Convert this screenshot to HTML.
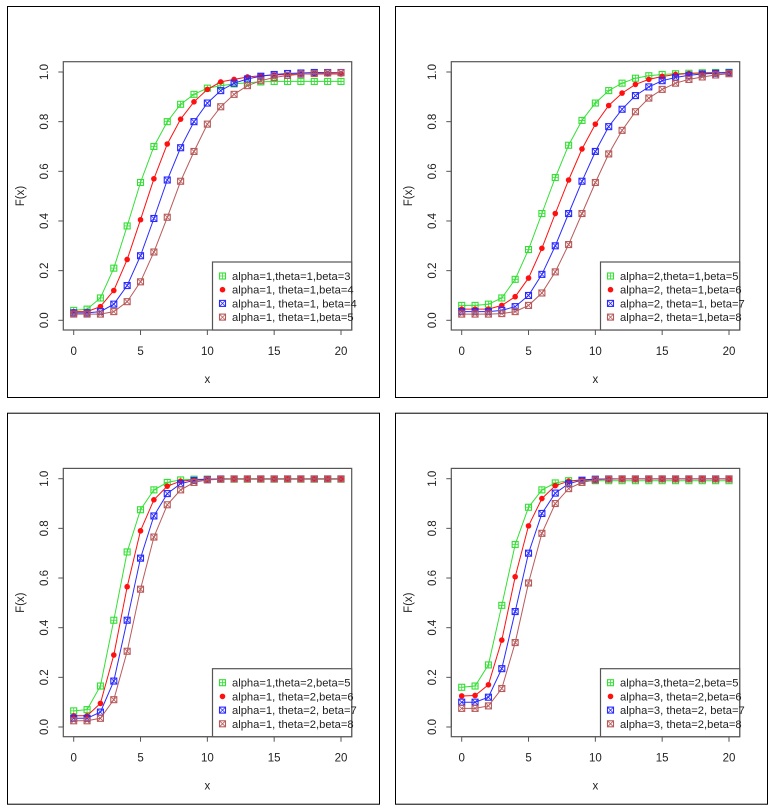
<!DOCTYPE html>
<html><head><meta charset="utf-8">
<style>
html,body{margin:0;padding:0;background:#fff;width:771px;height:812px;overflow:hidden}
svg{display:block;font-family:"Liberation Sans",Arial,sans-serif}
</style></head>
<body>
<svg id="chart" width="771" height="812" viewBox="0 0 771 812" xmlns="http://www.w3.org/2000/svg"></svg>
<script>
const xValues = [0,1,2,3,4,5,6,7,8,9,10,11,12,13,14,15,16,17,18,19,20];
const xTicks = [0,5,10,15,20];
const yTicks = [0,0.2,0.4,0.6,0.8,1.0];
const yTickLabels = ["0.0","0.2","0.4","0.6","0.8","1.0"];

const p1Labels = ["alpha=1,theta=1,beta=3","alpha=1, theta=1,beta=4","alpha=1, theta=1, beta=4","alpha=1, theta=1,beta=5"];
const p1Green = [0.04,0.045,0.09,0.21,0.38,0.555,0.70,0.80,0.87,0.91,0.935,0.945,0.952,0.957,0.96,0.962,0.962,0.962,0.962,0.962,0.962];
const p1Red = [0.035,0.035,0.055,0.12,0.245,0.405,0.57,0.71,0.81,0.88,0.93,0.96,0.97,0.98,0.985,0.988,0.99,0.992,0.992,0.992,0.992];
const p1Blue = [0.03,0.03,0.035,0.065,0.14,0.26,0.41,0.565,0.695,0.80,0.875,0.925,0.955,0.972,0.983,0.99,0.994,0.996,0.998,0.998,0.998];
const p1Brown = [0.025,0.025,0.025,0.035,0.075,0.155,0.275,0.415,0.56,0.68,0.79,0.86,0.91,0.945,0.965,0.978,0.986,0.991,0.994,0.996,0.997];

const p2Labels = ["alpha=2,theta=1,beta=5","alpha=2, theta=1,beta=6","alpha=2, theta=1, beta=7","alpha=2, theta=1,beta=8"];
const p2Green = [0.06,0.06,0.065,0.09,0.165,0.285,0.43,0.575,0.705,0.805,0.875,0.925,0.955,0.975,0.985,0.99,0.993,0.995,0.997,0.998,0.999];
const p2Red = [0.045,0.045,0.045,0.06,0.095,0.17,0.29,0.43,0.565,0.69,0.79,0.865,0.915,0.95,0.97,0.982,0.99,0.994,0.996,0.997,0.998];
const p2Blue = [0.035,0.035,0.035,0.04,0.055,0.10,0.185,0.30,0.43,0.56,0.68,0.78,0.85,0.905,0.94,0.965,0.978,0.987,0.992,0.995,0.997];
const p2Brown = [0.025,0.025,0.025,0.027,0.035,0.06,0.11,0.195,0.305,0.43,0.555,0.67,0.765,0.84,0.895,0.93,0.955,0.97,0.98,0.988,0.993];

const p3Labels = ["alpha=1,theta=2,beta=5","alpha=1, theta=2,beta=6","alpha=1, theta=2, beta=7","alpha=1, theta=2,beta=8"];
const p3Green = [0.065,0.07,0.165,0.43,0.705,0.875,0.955,0.985,0.995,0.998,0.998,0.998,0.998,0.998,0.998,0.998,0.998,0.998,0.998,0.998,0.998];
const p3Red = [0.045,0.045,0.095,0.29,0.565,0.79,0.915,0.97,0.99,0.996,0.998,0.999,0.999,0.999,0.999,0.999,0.999,0.999,0.999,0.999,0.999];
const p3Blue = [0.035,0.035,0.06,0.185,0.43,0.68,0.85,0.94,0.98,0.993,0.997,0.999,0.999,0.999,0.999,0.999,0.999,0.999,0.999,0.999,0.999];
const p3Brown = [0.025,0.025,0.035,0.11,0.305,0.555,0.765,0.895,0.955,0.985,0.995,0.998,0.999,0.999,0.999,0.999,0.999,0.999,0.999,0.999,0.999];

const p4Labels = ["alpha=3,theta=2,beta=5","alpha=3, theta=2,beta=6","alpha=3, theta=2, beta=7","alpha=3, theta=2,beta=8"];
const p4Green = [0.16,0.165,0.25,0.49,0.735,0.885,0.955,0.983,0.992,0.992,0.992,0.992,0.992,0.992,0.992,0.992,0.992,0.992,0.992,0.992,0.992];
const p4Red = [0.125,0.127,0.17,0.35,0.605,0.81,0.92,0.972,0.99,0.996,0.998,0.999,0.999,0.999,0.999,0.999,0.999,0.999,0.999,0.999,0.999];
const p4Blue = [0.10,0.10,0.12,0.235,0.465,0.70,0.86,0.942,0.98,0.994,0.998,0.999,0.999,0.999,0.999,0.999,0.999,0.999,0.999,0.999,0.999];
const p4Brown = [0.075,0.075,0.085,0.155,0.34,0.58,0.78,0.90,0.96,0.985,0.995,0.998,0.999,0.999,0.999,0.999,0.999,0.999,0.999,0.999,0.999];

const colors = ["#33e033","#ff1010","#2a2aff","#b85a5a"];
const markers = ["sqplus","dot","sqx","sqx"];
const NS = "http://www.w3.org/2000/svg";
const svg = document.getElementById("chart");

function mk(tag, attrs, parent){
  const e = document.createElementNS(NS, tag);
  for (const k in attrs) e.setAttribute(k, attrs[k]);
  parent.appendChild(e);
  return e;
}

function drawMarker(g, type, cx, cy, col){
  const h = 3;
  if (type === "dot"){
    mk("circle",{cx:cx,cy:cy,r:2.8,fill:col},g);
  } else {
    mk("rect",{x:cx-h,y:cy-h,width:2*h,height:2*h,fill:"none",stroke:col,"stroke-width":1.1},g);
    if (type === "sqplus"){
      mk("path",{d:`M${cx-h},${cy}H${cx+h}M${cx},${cy-h}V${cy+h}`,stroke:col,"stroke-width":0.8},g);
    } else {
      mk("path",{d:`M${cx-h},${cy-h}L${cx+h},${cy+h}M${cx+h},${cy-h}L${cx-h},${cy+h}`,stroke:col,"stroke-width":0.8},g);
    }
  }
}

function panel(dx, dy, series, labels, idx){
  const g = mk("g",{},svg);
  
  
  const frame = mk("rect",{x:7.5+dx,y:6.5+dy,width:372,height:391,fill:"none",stroke:"#000","stroke-width":1},g);
  
  
  const X = v => dx + 73.7 + (v/20)*(341-73.7);
  const Y = v => dy + 320.3 - v*(320.3-72);
  const box = mk("rect",{x:63.3+dx,y:61.7+dy,width:288.4,height:268.3,fill:"none",stroke:"#555","stroke-width":1.2},g);
  
  
  const bottom = 330+dy, left = 63.3+dx;
  const xa = mk("g",{},g);
  
  
  mk("line",{x1:X(0),x2:X(20),y1:bottom,y2:bottom,stroke:"#555"},xa);
  xTicks.forEach(t=>{
    mk("line",{x1:X(t),x2:X(t),y1:bottom,y2:bottom+5,stroke:"#555"},xa);
    const tx = mk("text",{x:X(t),y:355+dy,"font-size":11.5,"text-anchor":"middle",fill:"#222"},xa);
    tx.textContent = t;
    
    
  });
  const xt = mk("text",{x:X(10),y:383+dy,"font-size":11.5,"text-anchor":"middle",fill:"#222"},g);
  xt.textContent = "x";
  
  
  const ya = mk("g",{},g);
  
  
  mk("line",{x1:left,x2:left,y1:Y(0),y2:Y(1),stroke:"#555"},ya);
  yTicks.forEach((t,i)=>{
    mk("line",{x1:left-5,x2:left,y1:Y(t),y2:Y(t),stroke:"#555"},ya);
    const tx = mk("text",{x:0,y:0,"font-size":11.5,"text-anchor":"middle",fill:"#222",transform:`translate(${48+dx},${Y(t)}) rotate(-90)`},ya);
    tx.textContent = yTickLabels[i];
    
    
  });
  const yt = mk("text",{x:0,y:0,"font-size":11.5,"text-anchor":"middle",fill:"#222",transform:`translate(${24+dx},${196+dy}) rotate(-90)`},g);
  yt.textContent = "F(x)";
  
  
  series.forEach((vals,si)=>{
    const sg = mk("g",{},g);
    
    
    const pts = vals.map((v,i)=>`${X(xValues[i]).toFixed(1)},${Y(v).toFixed(1)}`).join(" ");
    mk("polyline",{points:pts,fill:"none",stroke:colors[si],"stroke-width":1},sg);
    vals.forEach((v,i)=>drawMarker(sg, markers[si], X(xValues[i]), Y(v), colors[si]));
  });
  const lg = mk("g",{},g);
  
  
  mk("rect",{x:212.5+dx,y:262+dy,width:139.2,height:68,fill:"#fff",stroke:"#555","stroke-width":1.2},lg);
  labels.forEach((l,i)=>{
    const cy = 276+dy+i*13.7;
    const eg = mk("g",{},lg);
    
    
    drawMarker(eg, markers[i], 222.5+dx, cy, colors[i]);
    const t = mk("text",{x:232+dx,y:cy+4,"font-size":11.2,fill:"#222"},eg);
    t.textContent = l;
  });
}

panel(0,0,[p1Green,p1Red,p1Blue,p1Brown],p1Labels,1);
panel(388,0,[p2Green,p2Red,p2Blue,p2Brown],p2Labels,2);
panel(0,406.7,[p3Green,p3Red,p3Blue,p3Brown],p3Labels,3);
panel(388,406.7,[p4Green,p4Red,p4Blue,p4Brown],p4Labels,4);
</script>
</body></html>
